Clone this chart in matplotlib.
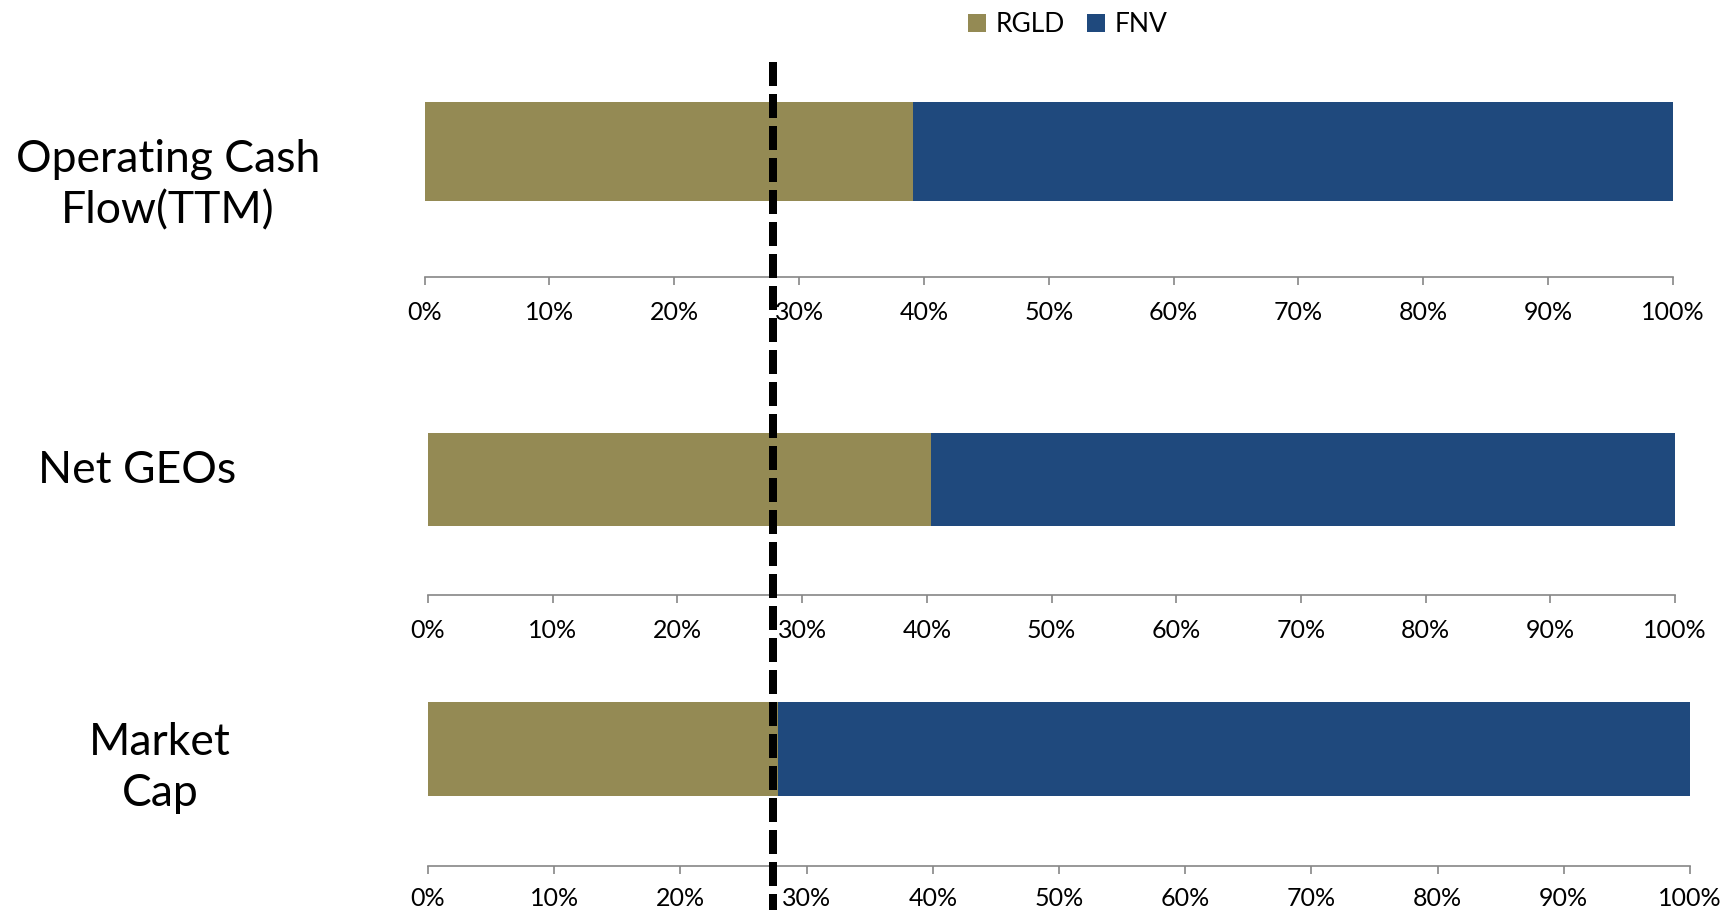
import matplotlib
matplotlib.use("Agg")
import matplotlib.pyplot as plt
from matplotlib.patches import Patch
from matplotlib.ticker import PercentFormatter, MultipleLocator
from matplotlib.transforms import blended_transform_factory

# ---- data ----
categories = ["Operating Cash\nFlow(TTM)", "Net GEOs", "Market\nCap"]
series_names = ["RGLD", "FNV"]
rgld_share = [0.391, 0.403, 0.277]
fnv_share = [0.609, 0.597, 0.723]
reference_line = 0.273  # dashed marker (share value)

colors = {"RGLD": "#948A54", "FNV": "#1F497D"}

plt.rcParams['font.family'] = ['Lato', 'DejaVu Sans']

W, H = 1721, 910
fig = plt.figure(figsize=(W / 100, H / 100), dpi=100)

# panel layout in pixels: x0 (0%), x1 (100%), bar top, bar bottom, axis line, label pad
panels = [
    (424.5, 1673, 102, 201, 277, 12),
    (428, 1675, 433, 526, 595, 12),
    (428, 1690, 702, 796, 866, 9.5),
]
label_pos = [(168, 185), (137, 470), (160, 768)]

axes = []
for i, (x0, x1, bt, bb, B, pad) in enumerate(panels):
    ax = fig.add_axes([x0 / W, 1 - B / H, (x1 - x0) / W, (B - bt) / H])
    a = (B - bb) / (B - bt)
    yc, hh = (1 + a) / 2, 1 - a
    ax.barh([yc], [rgld_share[i]], height=hh, left=[0], color=colors["RGLD"], linewidth=0)
    ax.barh([yc], [fnv_share[i]], height=hh, left=[rgld_share[i]], color=colors["FNV"], linewidth=0)
    ax.set_xlim(0, 1)
    ax.set_ylim(0, 1)
    for s in ["left", "top", "right"]:
        ax.spines[s].set_visible(False)
    ax.spines["bottom"].set_color("#868686")
    ax.spines["bottom"].set_linewidth(1.2)
    ax.set_yticks([])
    ax.xaxis.set_major_locator(MultipleLocator(0.1))
    ax.xaxis.set_major_formatter(PercentFormatter(1.0, decimals=0))
    ax.tick_params(axis="x", direction="out", length=5.5, width=1.2, color="#868686",
                   labelsize=18, pad=pad, labelcolor="black")
    ax.patch.set_alpha(0)
    axes.append(ax)
    lx, ly = label_pos[i]
    fig.text(lx / W, 1 - ly / H, categories[i], ha="center", va="center",
             multialignment="center", fontsize=32, linespacing=1.3, color="black")

# dashed reference line
ax3 = axes[-1]
tr = blended_transform_factory(ax3.transData, fig.transFigure)
ax3.plot([reference_line, reference_line], [1 - 62 / H, 0], transform=tr, color="black",
         linewidth=5.76, linestyle=(0, (3, 1)), clip_on=False, zorder=10,
         solid_capstyle="butt", dash_capstyle="butt")

# legend
handles = [Patch(facecolor=colors[n], edgecolor="none", label=n) for n in series_names]
fig.legend(handles=handles, loc="center", bbox_to_anchor=(1068 / W, 1 - 25 / H), ncol=2,
           frameon=False, fontsize=19, handlelength=0.68, handleheight=0.68,
           handletextpad=0.38, columnspacing=0.83, borderpad=0, borderaxespad=0)

fig.savefig("out.png", dpi=100)
